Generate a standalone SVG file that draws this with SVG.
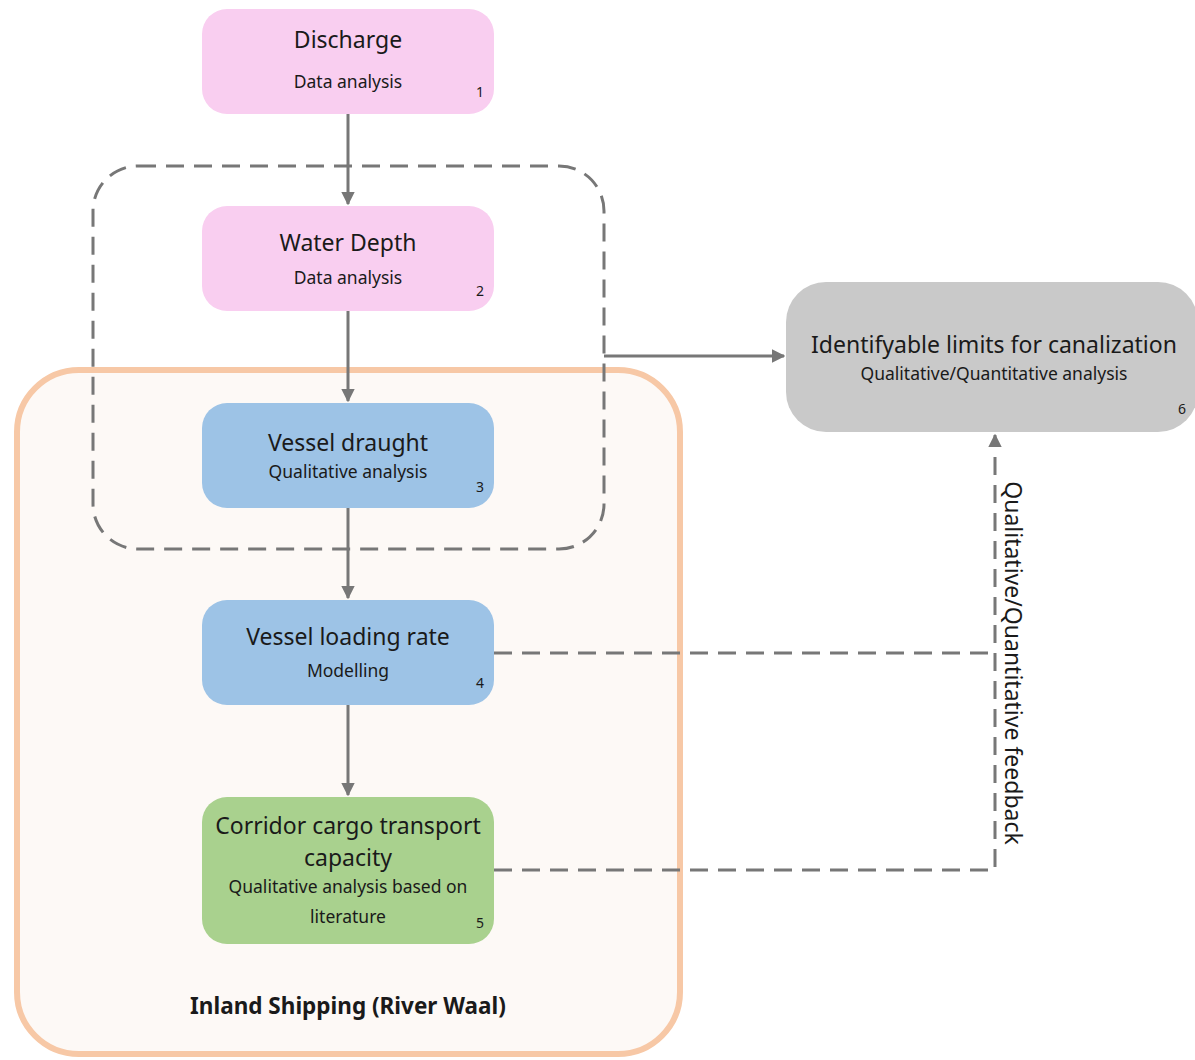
<svg xmlns="http://www.w3.org/2000/svg" width="1195" height="1060" viewBox="0 0 1195 1060">
<defs>
<marker id="arr" viewBox="0 0 10 10" refX="9" refY="5" markerWidth="4.5" markerHeight="4.5" orient="auto">
<path d="M0,0 L10,5 L0,10 z" fill="#777777"/>
</marker>
<style>
text{font-family:"Noto Sans","Open Sans",sans-serif;fill:#1a1a1a;text-anchor:middle}
.t{font-size:23px}
.s{font-size:17.5px}
.n{font-size:14px;text-anchor:end}
.line{stroke:#777777;stroke-width:3;fill:none}
.dash{stroke:#777777;stroke-width:3;fill:none;stroke-dasharray:18 10}
</style>
</defs>
<rect width="1195" height="1060" fill="#ffffff"/>
<g id="container">
<rect x="17" y="370" width="663" height="684" rx="62" fill="#FDF9F6" stroke="#F7C8A6" stroke-width="6"/>
<text x="348" y="1014" style="font-size:22.5px;font-weight:bold">Inland Shipping (River Waal)</text>
</g>
<g id="group-dashed">
<rect x="93" y="166" width="511" height="383" rx="45" class="dash"/>
</g>
<g id="connectors">
<line x1="348" y1="114" x2="348" y2="204" class="line" marker-end="url(#arr)"/>
<line x1="348" y1="311" x2="348" y2="401" class="line" marker-end="url(#arr)"/>
<line x1="348" y1="508" x2="348" y2="598" class="line" marker-end="url(#arr)"/>
<line x1="348" y1="705" x2="348" y2="795" class="line" marker-end="url(#arr)"/>
<line x1="604" y1="356" x2="784" y2="356" class="line" marker-end="url(#arr)"/>
<path d="M494,653 H995" class="dash"/>
<path d="M494,870 H995 V435" class="dash" marker-end="url(#arr)"/>
<text transform="translate(1005,663) rotate(90)" style="font-size:23px">Qualitative/Quantitative feedback</text>
</g>
<g id="node1">
<rect x="202" y="9" width="292" height="105" rx="25" fill="#F9CEF0"/>
<text x="348" y="48" class="t">Discharge</text>
<text x="348" y="88" class="s">Data analysis</text>
<text x="484" y="97" class="n">1</text>
</g>
<g id="node2">
<rect x="202" y="206" width="292" height="105" rx="25" fill="#F9CEF0"/>
<text x="348" y="251" class="t">Water Depth</text>
<text x="348" y="284" class="s">Data analysis</text>
<text x="484" y="296" class="n">2</text>
</g>
<g id="node3">
<rect x="202" y="403" width="292" height="105" rx="25" fill="#9DC3E6"/>
<text x="348" y="451" class="t">Vessel draught</text>
<text x="348" y="478" class="s">Qualitative analysis</text>
<text x="484" y="492" class="n">3</text>
</g>
<g id="node4">
<rect x="202" y="600" width="292" height="105" rx="25" fill="#9DC3E6"/>
<text x="348" y="645" class="t">Vessel loading rate</text>
<text x="348" y="677" class="s">Modelling</text>
<text x="484" y="688" class="n">4</text>
</g>
<g id="node5">
<rect x="202" y="797" width="292" height="147" rx="25" fill="#A9D18E"/>
<text x="348" y="834" class="t">Corridor cargo transport</text>
<text x="348" y="866" class="t">capacity</text>
<text x="348" y="893" class="s">Qualitative analysis based on</text>
<text x="348" y="923" class="s">literature</text>
<text x="484" y="928" class="n">5</text>
</g>
<g id="node6">
<rect x="786" y="282" width="412" height="150" rx="40" fill="#C9C9C9"/>
<text x="994" y="353" class="t">Identifyable limits for canalization</text>
<text x="994" y="380" class="s">Qualitative/Quantitative analysis</text>
<text x="1186" y="414" class="n">6</text>
</g>
</svg>
